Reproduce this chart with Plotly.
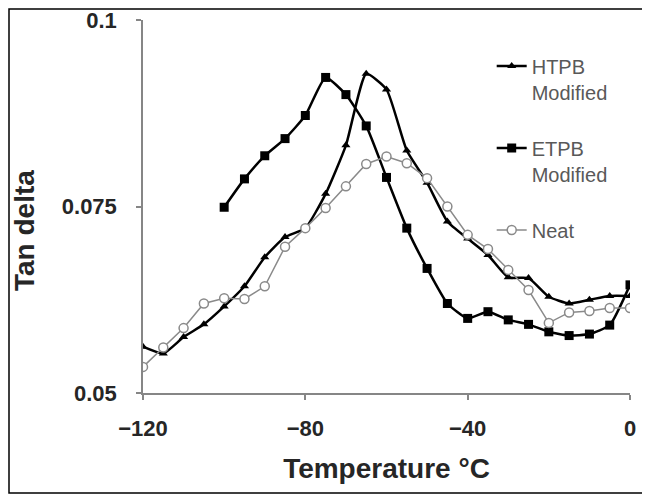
import plotly.graph_objects as go

temp_full = [-120, -115, -110, -105, -100, -95, -90, -85, -80, -75, -70, -65, -60,
             -55, -50, -45, -40, -35, -30, -25, -20, -15, -10, -5, 0]
temp_etpb = [-100, -95, -90, -85, -80, -75, -70, -65, -60, -55, -50, -45, -40,
             -35, -30, -25, -20, -15, -10, -5, 0]

htpb = [0.0562, 0.0553, 0.0575, 0.0592, 0.0616, 0.0643, 0.0682, 0.0709, 0.0721,
        0.0767, 0.0832, 0.0928, 0.0907, 0.0825, 0.0782, 0.0730, 0.0707, 0.0685,
        0.0655, 0.0654, 0.0629, 0.0620, 0.0625, 0.0630, 0.0630]
etpb = [0.0749, 0.0787, 0.0818, 0.0841, 0.0872, 0.0923, 0.0900, 0.0858, 0.0789,
        0.0721, 0.0667, 0.0620, 0.0600, 0.0609, 0.0598, 0.0592, 0.0582, 0.0577,
        0.0579, 0.0591, 0.0645]
neat = [0.0535, 0.0561, 0.0587, 0.0620, 0.0627, 0.0626, 0.0643, 0.0696, 0.0721,
        0.0748, 0.0777, 0.0807, 0.0817, 0.0808, 0.0788, 0.0750, 0.0712, 0.0693,
        0.0665, 0.0638, 0.0594, 0.0608, 0.0610, 0.0614, 0.0614]

x_ticks = [-120, -80, -40, 0]
y_ticks = [0.05, 0.075, 0.1]
y_tick_text = ["0.05", "0.075", "0.1"]

FONT = "Liberation Sans, Arial, sans-serif"

# page has an 8px body margin, so the figure is drawn 8px in from the window edge
W, H = 642, 490
L, R, T, B = 135, 20, 12, 105
PW, PH = W - L - R, H - T - B

fig = go.Figure()
fig.add_trace(go.Scatter(
    x=temp_full, y=htpb, name="HTPB<br>Modified", mode="lines+markers",
    line=dict(color="black", width=2.5, shape="spline", smoothing=0.5),
    marker=dict(symbol="triangle-up", size=8, color="black"),
    legendgroup="a"))
fig.add_trace(go.Scatter(
    x=temp_etpb, y=etpb, name="ETPB<br>Modified", mode="lines+markers",
    line=dict(color="black", width=2.5, shape="spline", smoothing=0.5),
    marker=dict(symbol="square", size=9, color="black"),
    legendgroup="b"))
fig.add_trace(go.Scatter(
    x=temp_full, y=neat, name="Neat", mode="lines+markers",
    line=dict(color="#8a8a8a", width=1.5),
    marker=dict(symbol="circle", size=9, color="white",
                line=dict(color="#8a8a8a", width=1.5)),
    legendgroup="c"))

fig.update_layout(
    width=W, height=H,
    margin=dict(l=L, r=R, t=T, b=B),
    paper_bgcolor="white", plot_bgcolor="white",
    font=dict(family=FONT, color="#333333"),
    legend=dict(x=0.716, y=0.929, xanchor="left", yanchor="top",
                font=dict(size=20, color="#595959", family=FONT),
                itemwidth=30, tracegroupgap=27, valign="top",
                bgcolor="rgba(0,0,0,0)"),
    xaxis=dict(range=[-120, 0], tickvals=x_ticks, showgrid=False, zeroline=False,
               showline=True, linecolor="#868686", linewidth=1.5,
               ticks="outside", ticklen=5, tickcolor="#868686", tickwidth=1.5,
               ticklabelstandoff=10, ticklabeloverflow="allow", automargin=False,
               tickfont=dict(size=22, family=FONT, color="#262626", weight="bold"),
               title=dict(text="Temperature °C", standoff=18,
                          font=dict(size=28, family=FONT, color="#262626", weight="bold"))),
    yaxis=dict(range=[0.05, 0.1], tickvals=y_ticks, ticktext=y_tick_text,
               showgrid=False, zeroline=False,
               showline=True, linecolor="#868686", linewidth=1.5,
               ticks="outside", ticklen=5, tickcolor="#868686", tickwidth=1.5,
               ticklabelstandoff=15, ticklabeloverflow="allow", automargin=False,
               tickfont=dict(size=22, family=FONT, color="#262626", weight="bold")),
)

# y-axis title placed as in the reference (slightly below the plot's middle)
fig.add_annotation(text="Tan delta", xref="paper", yref="paper",
                   x=(17 - L) / PW, y=(H - B - 223) / PH,
                   xanchor="center", yanchor="middle", textangle=-90,
                   showarrow=False,
                   font=dict(size=28, family=FONT, color="#262626", weight="bold"))

fig.add_shape(type="rect", xref="paper", yref="paper",
              x0=(1 - L) / PW, x1=(637 - L) / PW,
              y0=(H - B - 485) / PH, y1=(H - B - 1) / PH,
              line=dict(color="black", width=1.5), fillcolor="rgba(0,0,0,0)",
              layer="below")

fig.write_html("out.html")
